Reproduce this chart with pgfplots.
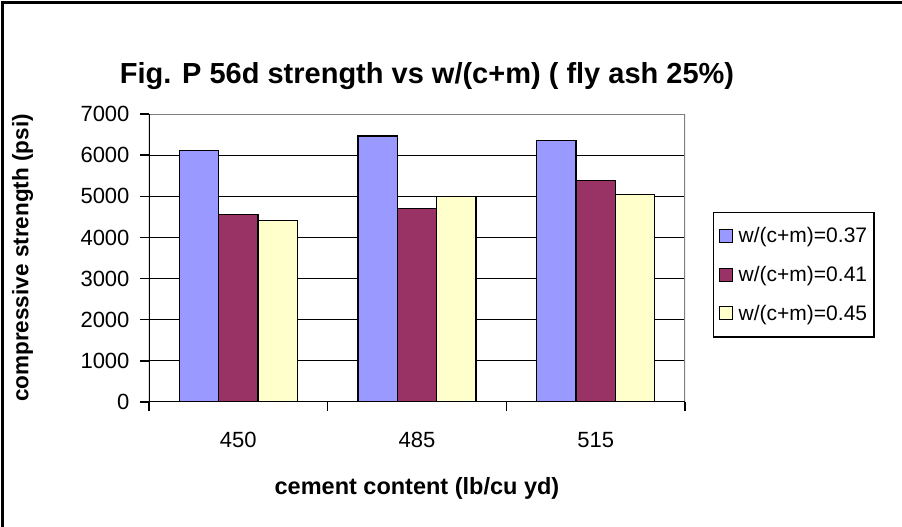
\documentclass[border=0pt]{standalone}
\usepackage{pgfplots}
\pgfplotsset{compat=1.18}
\usepackage{fontspec}
\setmainfont{Liberation Sans}
\definecolor{barblue}{HTML}{9999FF}
\definecolor{barplum}{HTML}{993366}
\definecolor{barcream}{HTML}{FFFFCC}
\definecolor{frameg}{HTML}{808080}

\begin{document}
\begin{tikzpicture}[x=1pt,y=1pt]
\useasboundingbox (-149,-125) rectangle (753,402);
% chart frame (cropped on right and bottom)
\draw[line width=3pt] (-146,-130) -- (-146,399) -- (760,399);
\begin{axis}[
    at={(0,0)}, anchor=south west,
    width=536pt, height=288pt, scale only axis,
    xmin=-0.5, xmax=2.5, ymin=0, ymax=7000,
    ybar=0pt, bar width=39.3pt,
    ytick={0,1000,...,7000},
    xtick={0,1,2}, xticklabels={450,485,515},
    minor xtick={-0.5,0.5,1.5,2.5},
    major x tick style={draw=none},
    xtick pos=bottom, ytick pos=left,
    tick align=outside,
    major tick length=9pt, minor tick length=9pt,
    tick style={black, line width=1.5pt},
    ymajorgrids, grid style={black, line width=1pt},
    axis line style={draw=none},
    /pgf/number format/assume math mode=true,
    /pgf/number format/1000 sep={},
    ticklabel style={font=\fontsize{22}{26}\selectfont},
    yticklabel style={xshift=-7pt},
    xticklabel style={yshift=-18pt},
    title={Fig. P 56d strength vs w/(c+m) ( fly ash 25\%)},
    title style={at={(axis description cs:0.5187,1.11)}, anchor=center,
        font=\bfseries\fontsize{29}{34}\selectfont},
    xlabel={cement content (lb/cu yd)},
    xlabel style={at={(axis description cs:0.5,-0.2986)}, anchor=center,
        font=\bfseries\fontsize{23.5}{28}\selectfont},
    ylabel={compressive strength (psi)},
    ylabel style={at={(axis description cs:-0.236,0.5)}, anchor=center,
        font=\bfseries\fontsize{22.5}{27}\selectfont},
    legend style={at={(axis description cs:1.0522,0.66)}, anchor=north west,
        draw=black, line width=1.5pt, font=\fontsize{21}{25}\selectfont,
        row sep=18pt, inner xsep=5pt, inner ysep=13pt,
        /tikz/every odd column/.append style={column sep=4pt}},
    legend cell align=left,
    legend image code/.code={\draw[#1, draw=black, line width=1pt] (0pt,-6.5pt) rectangle (13pt,6.5pt);},
]
\addplot[fill=barblue, draw=black, line width=1.5pt] coordinates {(0,6110) (1,6460) (2,6360)};
\addlegendentry{w/(c+m)=0.37}
\addplot[fill=barplum, draw=black, line width=1.5pt] coordinates {(0,4560) (1,4705) (2,5385)};
\addlegendentry{w/(c+m)=0.41}
\addplot[fill=barcream, draw=black, line width=1.5pt] coordinates {(0,4415) (1,4990) (2,5045)};
\addlegendentry{w/(c+m)=0.45}
\draw[frameg, line width=2pt] (rel axis cs:0,1) -- (rel axis cs:1,1) -- (rel axis cs:1,0);
\draw[black, line width=2.5pt] (rel axis cs:0,1) -- (rel axis cs:0,0) -- (rel axis cs:1,0);
\end{axis}
\end{tikzpicture}
\end{document}
